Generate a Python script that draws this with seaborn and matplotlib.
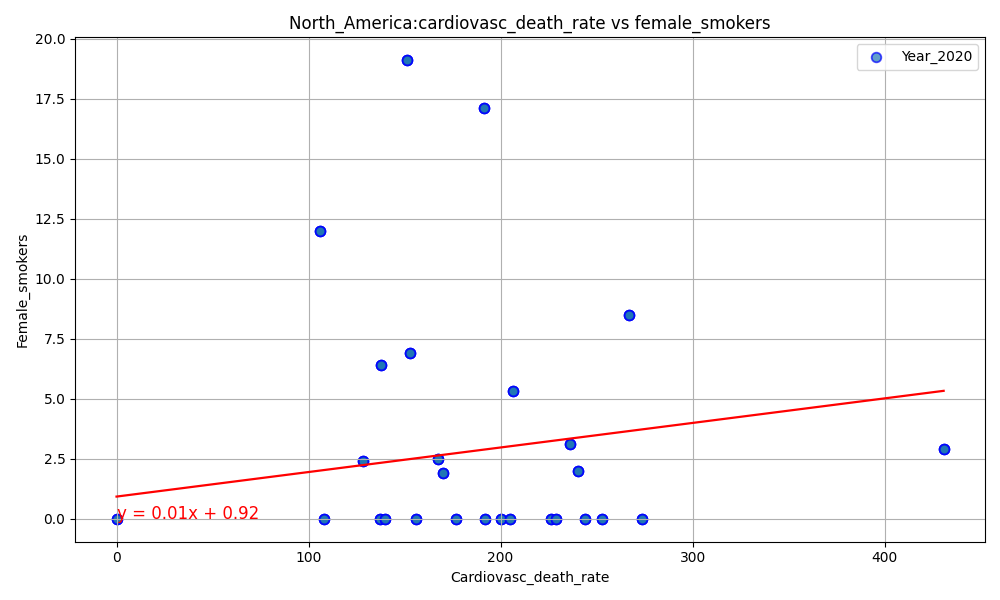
import matplotlib
matplotlib.use('Agg')
import matplotlib.pyplot as plt
import seaborn as sns
import numpy as np
import pandas as pd

# values
cardiovasc_death_rate = [0, 105.7, 108, 128.3, 137, 137.5, 139.6, 151, 152.6, 156,
                         167.3, 170, 177, 191.1, 191.7, 200, 205, 206.2, 226.4, 229,
                         236, 240.3, 243.8, 252.8, 266.7, 273.5, 430.7]
female_smokers = [0, 12.0, 0, 2.4, 0, 6.4, 0, 19.1, 6.9, 0,
                  2.5, 1.9, 0, 17.1, 0, 0, 0, 5.3, 0, 0,
                  3.1, 2.0, 0, 0, 8.5, 0, 2.9]
# each country has several rows for the year, so points overlap
rows_per_country = 4

fit_slope = 0.01023
fit_intercept = 0.92

df = pd.DataFrame({
    'cardiovasc_death_rate': np.repeat(cardiovasc_death_rate, rows_per_country),
    'female_smokers': np.repeat(female_smokers, rows_per_country),
})

plt.figure(figsize=(10, 6), dpi=100)
sns.scatterplot(data=df, x='cardiovasc_death_rate', y='female_smokers',
                color='#1f77b4', edgecolor='blue', alpha=0.7, s=48, linewidth=1.3,
                label='Year_2020')

x = np.array(cardiovasc_death_rate)
plt.plot(x, fit_slope * x + fit_intercept, color='red', linewidth=1.6)
plt.text(0, 0, f'y = {fit_slope:.2f}x + {fit_intercept:.2f}', color='red', fontsize=12)

plt.title('North_America:cardiovasc_death_rate vs female_smokers')
plt.xlabel('Cardiovasc_death_rate')
plt.ylabel('Female_smokers')
plt.grid(True)
plt.legend(loc='upper right')
plt.tight_layout()
plt.savefig('out.png')
plt.close()
